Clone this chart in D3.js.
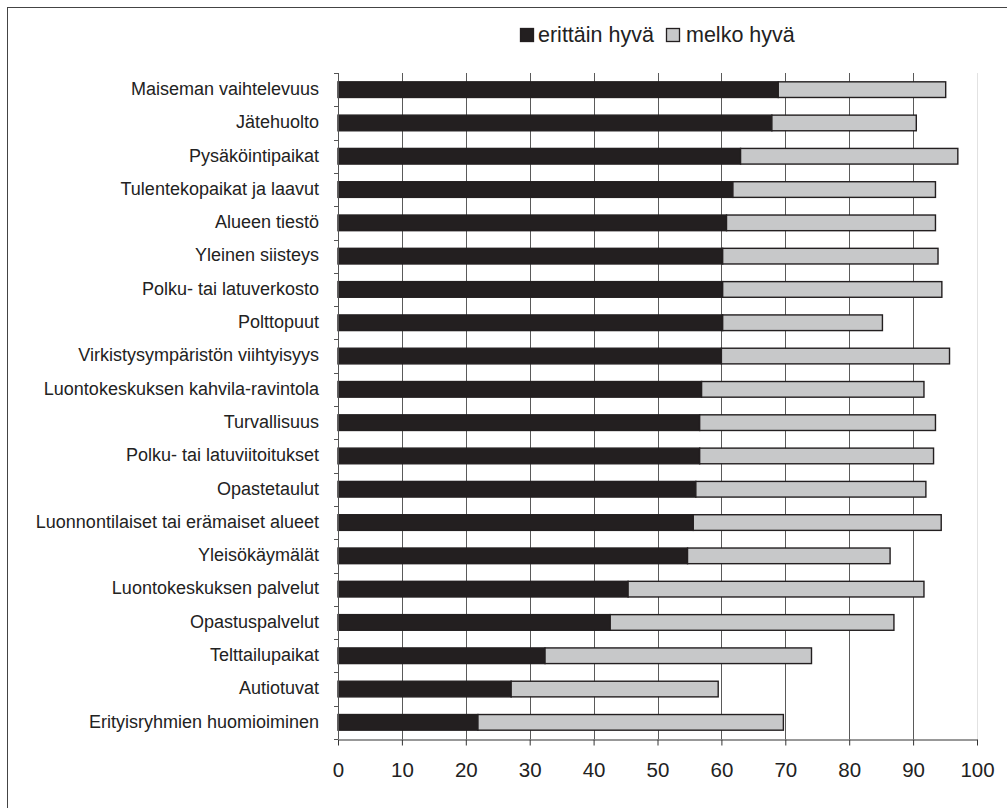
<!DOCTYPE html>
<html>
<head>
<meta charset="utf-8">
<script src="https://cdn.jsdelivr.net/npm/d3@7"></script>
<style>
  html, body { margin: 0; padding: 0; background: #fff; }
  svg { display: block; }
  text { font-family: "Liberation Sans", Arial, sans-serif; fill: #222; }
</style>
</head>
<body>
<svg id="chart" width="1007" height="808"></svg>
<script>
const categories = [
  "Maiseman vaihtelevuus",
  "Jätehuolto",
  "Pysäköintipaikat",
  "Tulentekopaikat ja laavut",
  "Alueen tiestö",
  "Yleinen siisteys",
  "Polku- tai latuverkosto",
  "Polttopuut",
  "Virkistysympäristön viihtyisyys",
  "Luontokeskuksen kahvila-ravintola",
  "Turvallisuus",
  "Polku- tai latuviitoitukset",
  "Opastetaulut",
  "Luonnontilaiset tai erämaiset alueet",
  "Yleisökäymälät",
  "Luontokeskuksen palvelut",
  "Opastuspalvelut",
  "Telttailupaikat",
  "Autiotuvat",
  "Erityisryhmien huomioiminen"
];
const erittainHyva = [68.9, 67.9, 63.0, 61.8, 60.8, 60.2, 60.2, 60.2, 60.0, 56.9, 56.6, 56.6, 56.0, 55.6, 54.7, 45.4, 42.6, 32.4, 27.1, 21.9];
const melkoHyva    = [26.2, 22.6, 34.0, 31.7, 32.7, 33.7, 34.3, 25.0, 35.7, 34.8, 36.9, 36.6, 36.0, 38.8, 31.7, 46.3, 44.4, 41.7, 32.4, 47.8];
const seriesNames = ["erittäin hyvä", "melko hyvä"];
const xTicks = [0, 10, 20, 30, 40, 50, 60, 70, 80, 90, 100];

const svg = d3.select("#chart");
const pLeft = 338, pRight = 977, pTop = 73, pBottom = 739;

const x = d3.scaleLinear().domain([0, 100]).range([pLeft, pRight]);
const y = d3.scaleBand().domain(categories).range([pTop, pBottom]).paddingInner(0.53).paddingOuter(0.265);
const step = y.step();

// outer frame (left/top visible)
svg.append("rect").attr("x", 7.5).attr("y", 7.5).attr("width", 1010).attr("height", 1010)
  .attr("fill", "none").attr("stroke", "#444").attr("stroke-width", 1);

// gridlines
svg.append("g").selectAll("line").data(xTicks.filter(d => d > 0)).join("line")
  .attr("x1", d => Math.round(x(d)) + 0.5).attr("x2", d => Math.round(x(d)) + 0.5)
  .attr("y1", pTop).attr("y2", pBottom)
  .attr("stroke", d => d === 100 ? "#e2e2e2" : "#5a5a5a").attr("stroke-width", 1);

// stacked bars
const stackData = categories.map((c, i) => ({cat: c, a: erittainHyva[i], b: melkoHyva[i]}));
const stack = d3.stack().keys(["a", "b"])(stackData);
const fills = ["#231f20", "#c7c8c9"];
svg.append("g").selectAll("g").data(stack).join("g")
  .attr("fill", (d, i) => fills[i])
  .selectAll("rect").data(d => d).join("rect")
  .attr("x", d => x(d[0]))
  .attr("width", d => x(d[1]) - x(d[0]))
  .attr("y", d => y(d.data.cat))
  .attr("height", y.bandwidth())
  .attr("stroke", "#231f20").attr("stroke-width", 1.4);

// y axis line + ticks at band boundaries
svg.append("line").attr("x1", pLeft + 0.5).attr("x2", pLeft + 0.5).attr("y1", pTop).attr("y2", pBottom)
  .attr("stroke", "#555").attr("stroke-width", 1);
svg.append("g").selectAll("line").data(d3.range(categories.length + 1)).join("line")
  .attr("x1", pLeft - 4).attr("x2", pLeft)
  .attr("y1", i => Math.round(pTop + i * step) + 0.5).attr("y2", i => Math.round(pTop + i * step) + 0.5)
  .attr("stroke", "#555").attr("stroke-width", 1);

// category labels
svg.append("g").selectAll("text").data(categories).join("text")
  .attr("x", 319).attr("y", d => y(d) + y.bandwidth() / 2 - 1)
  .attr("dy", "0.35em").attr("text-anchor", "end")
  .attr("font-size", 18)
  .text(d => d);

// x axis
const xAxis = d3.axisBottom(x).tickValues(xTicks).tickSize(6).tickPadding(17).tickSizeOuter(0);
const gx = svg.append("g").attr("transform", `translate(0,${pBottom + 0.5})`).call(xAxis);
gx.select(".domain").attr("stroke", "#333");
gx.selectAll(".tick line").attr("stroke", "#333");
gx.selectAll(".tick text").attr("font-size", 20.5).attr("font-family", "Liberation Sans, Arial, sans-serif").attr("fill", "#222");

// legend
const legend = svg.append("g");
const legendItems = [
  {name: seriesNames[0], fill: fills[0], sx: 520, tx: 538},
  {name: seriesNames[1], fill: fills[1], sx: 666, tx: 686}
];
legend.selectAll("rect").data(legendItems).join("rect")
  .attr("x", d => d.sx + 0.5).attr("y", 28.5).attr("width", 13).attr("height", 13)
  .attr("fill", d => d.fill).attr("stroke", "#231f20").attr("stroke-width", 1.3);
legend.selectAll("text").data(legendItems).join("text")
  .attr("x", d => d.tx).attr("y", 42)
  .attr("font-size", 21.5)
  .text(d => d.name);
</script>
</body>
</html>
